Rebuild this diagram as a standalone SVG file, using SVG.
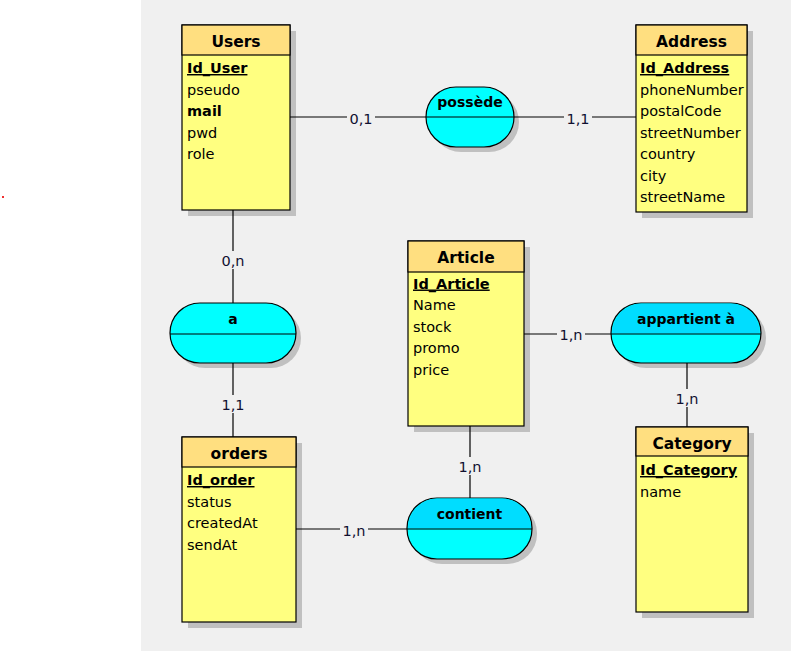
<svg xmlns="http://www.w3.org/2000/svg" width="791" height="651" viewBox="0 0 791 651">
  <defs>
    <style>
      .ent { fill: #FFFF80; stroke: #000; stroke-width: 1.2; }
      .hdr { fill: #FFDF80; stroke: #000; stroke-width: 1.2; }
      .shadow { fill: #C0C0C0; }
      .rel { fill: #00FFFF; stroke: #000; stroke-width: 1.2; }
      .relTop { fill: #00DDFF; }
      .title { font-family: "DejaVu Sans", "Liberation Sans", sans-serif; font-weight: bold; font-size: 15.5px; text-anchor: middle; fill: #000; }
      .rtitle { font-family: "DejaVu Sans", "Liberation Sans", sans-serif; font-weight: bold; font-size: 14px; text-anchor: middle; fill: #000; }
      .attr { font-family: "DejaVu Sans", "Liberation Sans", sans-serif; font-size: 14.5px; fill: #000; }
      .key { font-weight: bold; text-decoration: underline; }
      .bold { font-weight: bold; }
      .link { stroke: #000; stroke-width: 1.2; fill: none; }
      .card { font-family: "DejaVu Sans", "Liberation Sans", sans-serif; font-size: 14.5px; text-anchor: middle; fill: #101030; }
      .cardBg { fill: #F0F0F0; }
    </style>
  </defs>

  <!-- canvas -->
  <rect x="0" y="0" width="791" height="651" fill="#FFFFFF"/>
  <rect x="141" y="0" width="650" height="651" fill="#F0F0F0"/>
  <rect x="2" y="196" width="2" height="2" fill="#F03030"/>

  <!-- entities -->
  <g id="users">
    <rect class="shadow" x="188" y="31" width="108" height="185"/>
    <rect class="ent" x="182" y="25" width="108" height="185"/>
    <rect class="hdr" x="182" y="25" width="108" height="30"/>
    <text class="title" x="236" y="47">Users</text>
    <text class="attr key" x="187" y="73">Id_User</text>
    <text class="attr" x="187" y="94.5">pseudo</text>
    <text class="attr bold" x="187" y="116">mail</text>
    <text class="attr" x="187" y="137.5">pwd</text>
    <text class="attr" x="187" y="159">role</text>
  </g>

  <g id="address">
    <rect class="shadow" x="642" y="31" width="111" height="187"/>
    <rect class="ent" x="636" y="25" width="111" height="187"/>
    <rect class="hdr" x="636" y="25" width="111" height="30"/>
    <text class="title" x="691.5" y="47">Address</text>
    <text class="attr key" x="640" y="73">Id_Address</text>
    <text class="attr" x="640" y="94.5">phoneNumber</text>
    <text class="attr" x="640" y="116">postalCode</text>
    <text class="attr" x="640" y="137.5">streetNumber</text>
    <text class="attr" x="640" y="159">country</text>
    <text class="attr" x="640" y="180.5">city</text>
    <text class="attr" x="640" y="202">streetName</text>
  </g>

  <g id="article">
    <rect class="shadow" x="414" y="247" width="116" height="185"/>
    <rect class="ent" x="408" y="241" width="116" height="185"/>
    <rect class="hdr" x="408" y="241" width="116" height="31"/>
    <text class="title" x="466" y="263">Article</text>
    <text class="attr key" x="413" y="288.5">Id_Article</text>
    <text class="attr" x="413" y="310">Name</text>
    <text class="attr" x="413" y="331.5">stock</text>
    <text class="attr" x="413" y="353">promo</text>
    <text class="attr" x="413" y="374.5">price</text>
  </g>

  <g id="orders">
    <rect class="shadow" x="188" y="443" width="114" height="185"/>
    <rect class="ent" x="182" y="437" width="114" height="185"/>
    <rect class="hdr" x="182" y="437" width="114" height="30"/>
    <text class="title" x="239" y="459">orders</text>
    <text class="attr key" x="187" y="485">Id_order</text>
    <text class="attr" x="187" y="506.5">status</text>
    <text class="attr" x="187" y="528">createdAt</text>
    <text class="attr" x="187" y="549.5">sendAt</text>
  </g>

  <g id="category">
    <rect class="shadow" x="642" y="433" width="112" height="185"/>
    <rect class="ent" x="636" y="427" width="112" height="185"/>
    <rect class="hdr" x="636" y="427" width="112" height="29"/>
    <text class="title" x="692" y="449">Category</text>
    <text class="attr key" x="640" y="475">Id_Category</text>
    <text class="attr" x="640" y="496.5">name</text>
  </g>

  <!-- associations -->
  <g id="possede">
    <rect class="shadow" x="431" y="92" width="88" height="60" rx="30"/>
    <rect class="rel" x="426" y="87" width="88" height="60" rx="30"/>
    <line class="link" x1="426" y1="117" x2="514" y2="117"/>
    <text class="rtitle" x="470" y="107">possède</text>
  </g>

  <g id="a">
    <rect class="shadow" x="175" y="308" width="126" height="60" rx="30"/>
    <rect class="rel" x="170" y="303" width="126" height="60" rx="30"/>
    <line class="link" x1="170" y1="334" x2="296" y2="334"/>
    <text class="rtitle" x="233" y="324">a</text>
  </g>

  <g id="appartient">
    <rect class="shadow" x="616" y="308" width="150" height="60" rx="30"/>
    <rect class="rel" x="611" y="303" width="150" height="60" rx="30"/>
    <path class="relTop" d="M641.6,303.6 H730.4 A29.4,29.4 0 0 1 759.8,333.4 H612.2 A29.4,29.4 0 0 1 641.6,303.6 Z"/>
    <line class="link" x1="611" y1="334" x2="761" y2="334"/>
    <text class="rtitle" x="686" y="324">appartient à</text>
  </g>

  <g id="contient">
    <rect class="shadow" x="412" y="503" width="125" height="61" rx="30"/>
    <rect class="rel" x="407" y="498" width="125" height="61" rx="30"/>
    <path class="relTop" d="M437.6,498.6 H501.4 A29.4,29.4 0 0 1 531,528.4 H408 A29.4,29.4 0 0 1 437.6,498.6 Z"/>
    <line class="link" x1="407" y1="529" x2="532" y2="529"/>
    <text class="rtitle" x="469.5" y="519">contient</text>
  </g>

  <!-- connectors, drawn over the drop shadows -->
  <g id="connectors">
    <line class="link" x1="290" y1="117" x2="426" y2="117"/>
    <line class="link" x1="514" y1="117" x2="636" y2="117"/>
    <line class="link" x1="233" y1="210" x2="233" y2="303"/>
    <line class="link" x1="233" y1="363" x2="233" y2="437"/>
    <line class="link" x1="524" y1="334" x2="611" y2="334"/>
    <line class="link" x1="687" y1="363" x2="687" y2="427"/>
    <line class="link" x1="470" y1="426" x2="470" y2="498"/>
    <line class="link" x1="296" y1="529" x2="407" y2="529"/>

    <rect class="cardBg" x="347" y="109" width="28" height="18"/>
    <text class="card" x="361" y="124">0,1</text>
    <rect class="cardBg" x="564" y="109" width="28" height="18"/>
    <text class="card" x="578" y="124">1,1</text>
    <rect class="cardBg" x="219" y="251" width="28" height="18"/>
    <text class="card" x="233" y="266">0,n</text>
    <rect class="cardBg" x="219" y="395" width="28" height="18"/>
    <text class="card" x="233" y="410">1,1</text>
    <rect class="cardBg" x="557" y="325" width="28" height="18"/>
    <text class="card" x="571" y="340">1,n</text>
    <rect class="cardBg" x="673" y="389" width="28" height="18"/>
    <text class="card" x="687" y="404">1,n</text>
    <rect class="cardBg" x="456" y="457" width="28" height="18"/>
    <text class="card" x="470" y="472">1,n</text>
    <rect class="cardBg" x="340" y="521" width="28" height="18"/>
    <text class="card" x="354" y="536">1,n</text>
  </g>
</svg>
